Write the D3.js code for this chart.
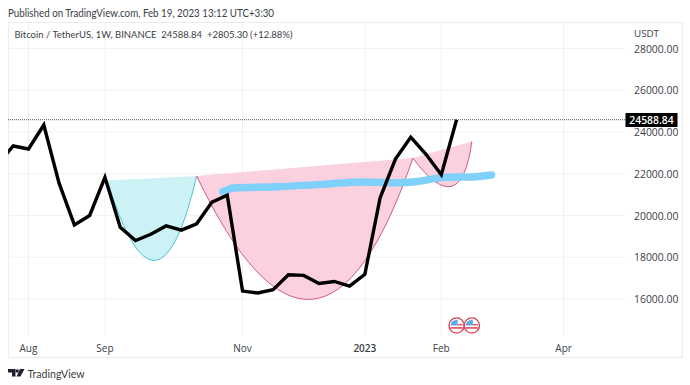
<!DOCTYPE html>
<html><head><meta charset="utf-8">
<script src="https://cdn.jsdelivr.net/npm/d3@7/dist/d3.min.js"></script>
<style>html,body{margin:0;padding:0;background:#fff}svg{display:block}text{font-family:"Open Sans",sans-serif}</style>
</head><body><svg id="c" width="690" height="385"></svg>
<script>
// weekly closes, starting the week of 2022-07-18
const firstWeek = "2022-07-18";
const closes = [22470,23330,23185,24335,21550,19550,20000,21830,19440,18800,19100,19500,19300,19600,20640,20970,16380,16290,16450,17160,17130,16740,16840,16620,17180,20850,22700,23750,22930,21950,24588.84];
const priceTicks = [28000,26000,24000,22000,20000,18000,16000];
const timeTicks = [["2022-08-01","Aug"],["2022-09-05","Sep"],["2022-11-07","Nov"],["2023-01-02","2023"],["2023-02-06","Feb"],["2023-04-03","Apr"]];
const lastPrice = 24588.84;
// drawings: [date, price] anchors of start, control, end
const tealArc = [["2022-09-06",21680],["2022-09-29",13900],["2022-10-17",21890]];
const pinkBig = [["2022-10-17",21890],["2022-12-12",9650],["2023-01-24",22750]];
const pinkSmall = [["2023-01-24",22750],["2023-02-15",19650],["2023-02-20",23550]];
const blueStroke = [["2022-10-29",21140],["2022-11-03",21317],["2022-11-23",21380],["2022-12-16",21510],["2022-12-31",21610],["2023-01-16",21570],["2023-01-25",21620],["2023-02-08",21830],["2023-02-20",21850],["2023-03-01",21940]];
const eventWeeks = ["2023-02-13","2023-02-20"];

const parse = d3.utcParse("%Y-%m-%d");
const svg = d3.select("#c");
const weekMs = 7*864e5;
const x = d3.scaleUtc().domain([parse("2022-08-01"),parse("2023-04-03")]).range([28.5,563.6]);
const y = d3.scaleLinear().domain([16000,28000]).range([299,48.5]);
const L=8,T=22,R=683,B=358,PR=625,AB=336;

svg.append("defs").append("clipPath").attr("id","pane").append("rect").attr("x",L).attr("y",T).attr("width",PR-L).attr("height",AB-T);
svg.append("rect").attr("x",L+.5).attr("y",T+.5).attr("width",R-L-1).attr("height",B-T-1).attr("fill","#fff").attr("stroke","#ececec");
const grid = svg.append("g").attr("stroke","#f1f1f3");
priceTicks.forEach(p=>grid.append("line").attr("x1",L).attr("x2",PR).attr("y1",y(p)).attr("y2",y(p)));
timeTicks.forEach(t=>grid.append("line").attr("x1",x(parse(t[0]))).attr("x2",x(parse(t[0]))).attr("y1",T).attr("y2",AB));

const pane = svg.append("g").attr("clip-path","url(#pane)");
const arcEdge = a=>{const p=d3.path(),P=a.map(d=>[x(parse(d[0])),y(d[1])]);p.moveTo(...P[0]);p.quadraticCurveTo(P[1][0],P[1][1],P[2][0],P[2][1]);return p.toString();};
[[tealArc,"#cdf2f5","#4fc3d4"],[pinkBig,"#fbd0df","#cf5a85"],[pinkSmall,"#fbd0df","#cf5a85"]].forEach(([a,f,s])=>{
  pane.append("path").attr("d",arcEdge(a)+"Z").attr("fill",f);
  pane.append("path").attr("d",arcEdge(a)).attr("fill","none").attr("stroke",s).attr("stroke-width",1);
});

pane.append("line").attr("x1",L).attr("x2",PR).attr("y1",y(lastPrice)).attr("y2",y(lastPrice)).attr("stroke","#555").attr("stroke-dasharray","1 1");

const blueLine = d3.line().x(d=>x(parse(d[0]))).y(d=>y(d[1])).curve(d3.curveMonotoneX);
pane.append("path").attr("d",blueLine(blueStroke)).attr("fill","none").attr("stroke","#80d0fc").attr("stroke-width",7.5).attr("stroke-linecap","round");

const start = parse(firstWeek);
const series = closes.map((c,i)=>({d:new Date(+start+i*weekMs),c}));
pane.append("path").attr("d",d3.line().x(d=>x(d.d)).y(d=>y(d.c))(series)).attr("fill","none").attr("stroke","#000").attr("stroke-width",3.4).attr("stroke-linejoin","miter");

// event icons
eventWeeks.forEach(w=>{
  const g=svg.append("g").attr("transform",`translate(${x(parse(w))},325.5)`);
  g.append("circle").attr("r",7.6).attr("fill","#fff").attr("stroke","#d9404f").attr("stroke-width",1.4);
  g.append("path").attr("d","M-6,-1A6,6 0 0 1 1,-5.5L1,0L-6,0Z").attr("fill","#5fa8e8");
  g.append("rect").attr("x",1).attr("y",-1.5).attr("width",5).attr("height",1.5).attr("fill","#e0606a");
  g.append("rect").attr("x",-6).attr("y",1.5).attr("width",12).attr("height",1.8).attr("fill","#e0606a");
});

const t=(s,X,Y,o={})=>svg.append("text").text(s).attr("x",X).attr("y",Y).attr("font-size",o.fs||10.4).attr("fill",o.fill||"#3a3e45").attr("text-anchor",o.anchor||"start").attr("dominant-baseline","central").attr("font-weight",o.w||400).style("font-family",o.ff||null);
const LATO='Lato,sans-serif';
t("Published on TradingView.com, Feb 19, 2023 13:12 UTC+3:30",8,12.5,{fs:10.6,ff:LATO}).attr("textLength",266).attr("lengthAdjust","spacingAndGlyphs");
t("Bitcoin / TetherUS, 1W, BINANCE  24588.84  +2805.30 (+12.88%)",14.5,34,{fs:10.2,ff:LATO}).style("white-space","pre").attr("textLength",278).attr("lengthAdjust","spacingAndGlyphs");
t("USDT",634,33,{fs:9.8});
priceTicks.forEach(p=>t(p.toFixed(2),634,y(p)));
svg.append("rect").attr("x",625.5).attr("y",113).attr("width",52).attr("height",14).attr("fill","#000");
t(lastPrice.toFixed(2),651.5,120,{fill:"#fff",anchor:"middle",w:600});
timeTicks.forEach(k=>t(k[1],x(parse(k[0])),347.5,{anchor:"middle",fs:10,w:k[1]==="2023"?600:400}));

// logo
svg.append("path").attr("fill","#1e222d").attr("d","M8,369H15.5V376.5H12V372.5H8Z");
svg.append("circle").attr("cx",17.2).attr("cy",371).attr("r",1.7).attr("fill","#1e222d");
svg.append("path").attr("fill","#1e222d").attr("d","M20,369H24.5L20.5,376.5H16.5Z");
t("TradingView",27.5,373,{fs:11,ff:LATO}).attr("textLength",57).attr("lengthAdjust","spacingAndGlyphs");
</script></body></html>
